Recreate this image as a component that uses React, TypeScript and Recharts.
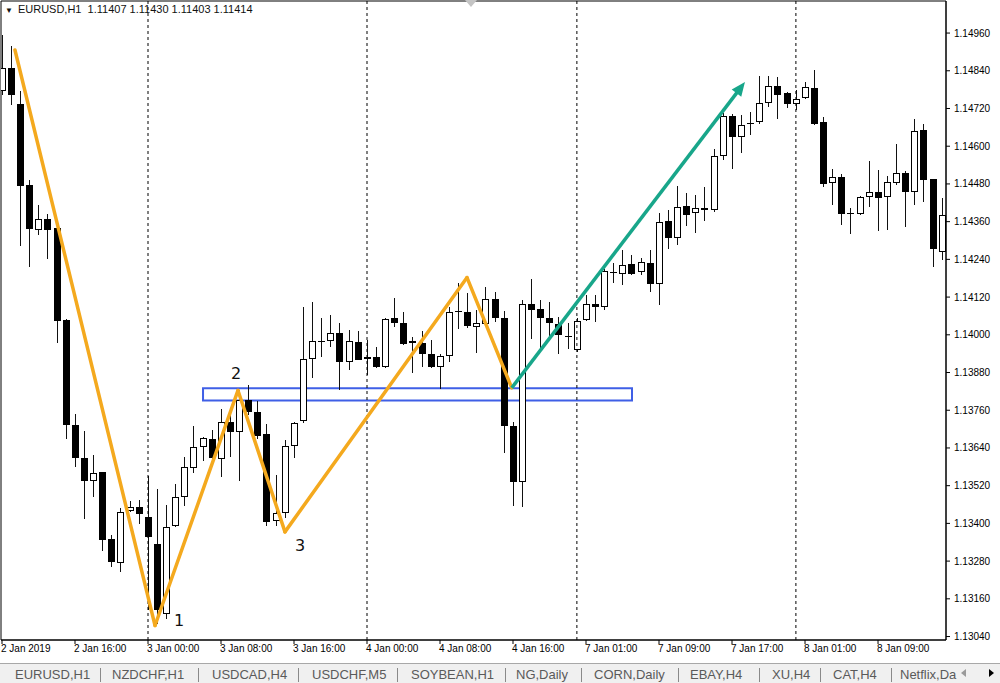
import React from 'react';
import {
  ComposedChart,
  Bar,
  XAxis,
  YAxis,
  ReferenceLine,
  ReferenceArea,
  ReferenceDot,
} from 'recharts';

// ---------- DATA (EURUSD H1) ----------
const opens = [
  1.14775, 1.1485, 1.14735, 1.14476, 1.14333, 1.14368, 1.14339, 1.14048, 1.13713, 1.13608,
  1.13536, 1.13563, 1.1335, 1.13274, 1.13438, 1.13453, 1.1342, 1.13334, 1.13113, 1.13392,
  1.13483, 1.13575, 1.13642, 1.13667, 1.13604, 1.13721, 1.1369, 1.13792, 1.13753, 1.13683,
  1.13409, 1.13432, 1.13645, 1.13725, 1.13922, 1.13979, 1.13979, 1.14005, 1.13913, 1.13977,
  1.13922, 1.13928, 1.13898, 1.14052, 1.14038, 1.13973, 1.13974, 1.13938, 1.13898, 1.13932,
  1.14075, 1.14073, 1.14024, 1.14033, 1.14113, 1.14054, 1.1371, 1.13531, 1.14099, 1.14083,
  1.14052, 1.14033, 1.13995, 1.13951, 1.14046, 1.14097, 1.14087, 1.142, 1.14195, 1.14225,
  1.142, 1.1423, 1.14161, 1.14362, 1.14308, 1.1441, 1.14386, 1.14404, 1.14396, 1.14569,
  1.14697, 1.14628, 1.14674, 1.14676, 1.14736, 1.14792, 1.14768, 1.14733, 1.14752, 1.14784,
  1.14676, 1.14483, 1.14501, 1.14386, 1.14384, 1.14437, 1.14453, 1.14437, 1.14483, 1.14515,
  1.14453, 1.14653, 1.14495, 1.14264,
];
const highs = [
  1.14954, 1.14919, 1.14777, 1.14492, 1.14413, 1.14385, 1.14342, 1.1405, 1.13748, 1.13693,
  1.13618, 1.13565, 1.13362, 1.13448, 1.13471, 1.13474, 1.1355, 1.13508, 1.13457, 1.13524,
  1.1361, 1.13709, 1.13675, 1.13696, 1.13763, 1.13763, 1.13823, 1.13839, 1.13788, 1.13715,
  1.13553, 1.13664, 1.13724, 1.14088, 1.14104, 1.14053, 1.14062, 1.14037, 1.14014, 1.14011,
  1.13983, 1.1396, 1.14052, 1.14117, 1.14073, 1.13992, 1.14012, 1.13983, 1.13938, 1.14089,
  1.14164, 1.14132, 1.14078, 1.14152, 1.14136, 1.14075, 1.13722, 1.1411, 1.14176, 1.14112,
  1.14104, 1.14057, 1.14038, 1.14052, 1.14126, 1.14126, 1.14209, 1.14228, 1.14269, 1.14253,
  1.14244, 1.14269, 1.14386, 1.14396, 1.14473, 1.14452, 1.14446, 1.14471, 1.1459, 1.14706,
  1.14704, 1.14699, 1.14708, 1.14823, 1.14823, 1.1482, 1.14772, 1.14779, 1.14805, 1.14842,
  1.14692, 1.14529, 1.14513, 1.14402, 1.14441, 1.14553, 1.14524, 1.14505, 1.14607, 1.14521,
  1.14688, 1.14672, 1.14496, 1.14436,
];
const lows = [
  1.14763, 1.14732, 1.14282, 1.14217, 1.14316, 1.14242, 1.13974, 1.13669, 1.13579, 1.13414,
  1.13484, 1.13311, 1.13261, 1.13246, 1.13435, 1.13398, 1.13123, 1.13081, 1.13097, 1.1339,
  1.13454, 1.13559, 1.13598, 1.13591, 1.13546, 1.1361, 1.13534, 1.13744, 1.1367, 1.13393,
  1.13393, 1.13416, 1.13607, 1.13718, 1.13862, 1.13928, 1.1396, 1.13823, 1.13887, 1.13919,
  1.13871, 1.13894, 1.13894, 1.14025, 1.13967, 1.13877, 1.13898, 1.13894, 1.13829, 1.13913,
  1.14018, 1.14021, 1.13942, 1.14027, 1.14041, 1.13623, 1.13454, 1.13452, 1.13988, 1.13956,
  1.13993, 1.13938, 1.13956, 1.13944, 1.14043, 1.14041, 1.14078, 1.14164, 1.14158, 1.1419,
  1.1419, 1.14136, 1.14094, 1.14274, 1.14285, 1.14346, 1.14325, 1.14361, 1.1439, 1.14556,
  1.14529, 1.14579, 1.14635, 1.1467, 1.14725, 1.14688, 1.1472, 1.14715, 1.1475, 1.14667,
  1.14471, 1.14412, 1.14349, 1.1432, 1.14382, 1.14407, 1.14331, 1.14333, 1.14476, 1.14343,
  1.14412, 1.14423, 1.14216, 1.14237,
];
const closes = [
  1.14849, 1.14763, 1.14474, 1.14336, 1.14369, 1.14334, 1.14044, 1.13713, 1.13608, 1.13535,
  1.1356, 1.13346, 1.13276, 1.13435, 1.13453, 1.13429, 1.13358, 1.13123, 1.1339, 1.13483,
  1.13578, 1.13642, 1.13671, 1.13607, 1.13721, 1.1369, 1.13792, 1.13753, 1.13677, 1.13406,
  1.13432, 1.13645, 1.13718, 1.13922, 1.13979, 1.1398, 1.14005, 1.13913, 1.1398, 1.13921,
  1.13928, 1.13897, 1.1405, 1.14037, 1.1397, 1.1398, 1.13938, 1.13897, 1.13932, 1.14073,
  1.14074, 1.14027, 1.14037, 1.14113, 1.14054, 1.1371, 1.13531, 1.14099, 1.14078, 1.14052,
  1.14036, 1.13998, 1.13996, 1.14044, 1.14099, 1.14087, 1.14203, 1.14201, 1.14221, 1.14195,
  1.14231, 1.14161, 1.14359, 1.14308, 1.14407, 1.14381, 1.14402, 1.14396, 1.14569, 1.14697,
  1.14628, 1.14667, 1.14675, 1.14736, 1.14791, 1.14763, 1.14733, 1.14749, 1.14789, 1.1467,
  1.14479, 1.14501, 1.14384, 1.14387, 1.14437, 1.14453, 1.14436, 1.14487, 1.14515, 1.14453,
  1.14649, 1.14494, 1.14272, 1.14381,
];

const xTickIdx = [0, 8, 16, 24, 32, 40, 48, 56, 64, 72, 80, 88, 96];
const xTickLabels = [
  '2 Jan 2019', '2 Jan 16:00', '3 Jan 00:00', '3 Jan 08:00', '3 Jan 16:00', '4 Jan 00:00',
  '4 Jan 08:00', '4 Jan 16:00', '7 Jan 01:00', '7 Jan 09:00', '7 Jan 17:00', '8 Jan 01:00',
  '8 Jan 09:00',
];
const daySeparators = [16, 40, 63, 87];
const yTicks = [
  1.1304, 1.1316, 1.1328, 1.134, 1.1352, 1.1364, 1.1376, 1.1388, 1.14, 1.1412, 1.1424,
  1.1436, 1.1448, 1.146, 1.1472, 1.1484, 1.1496,
];

// drawn objects (bar index, price)
const zigzagIdx = [1.42, 16.77, 25.86, 31.01, 50.96, 55.86];
const zigzagPrice = [1.14906, 1.13075, 1.13823, 1.13373, 1.14182, 1.13831];
const arrowIdx = [55.86, 81.42];
const arrowPrice = [1.13831, 1.14804];
const boxIdx = [22.03, 69.04];
const boxPrice = [1.13791, 1.1383];
const pointLabels = ['1', '2', '3'];
const pointLabelIdx = [19.4, 25.64, 32.66];
const pointLabelPrice = [1.13091, 1.13877, 1.1333];

const headerSymbol = 'EURUSD,H1';
const headerQuote = ['1.11407', '1.11430', '1.11403', '1.11414'];

const tabNames = [
  'EURUSD,H1', 'NZDCHF,H1', 'USDCAD,H4', 'USDCHF,M5', 'SOYBEAN,H1', 'NG,Daily',
  'CORN,Daily', 'EBAY,H4', 'XU,H4', 'CAT,H4', 'Netflix,Da',
];

// ---------- LAYOUT ----------
const X_DOMAIN: [number, number] = [-0.11, 103.45];
const Y_DOMAIN: [number, number] = [1.13029, 1.15062];
const FONT = '"Liberation Sans", Arial, sans-serif';
const ORANGE = '#f4a91e';
const GREEN = '#18a68a';
const BLUE = '#3f5fe6';
const tabLeft = [15, 112, 212, 312, 411, 516, 594, 690, 772, 833, 900];
const sepLeft = [100, 198, 298, 397, 505, 581, 678, 759, 820, 891];

const candles = opens.map((o, i) => ({
  idx: i,
  open: o,
  high: highs[i],
  low: lows[i],
  close: closes[i],
  range: [lows[i], highs[i]],
}));

const Candle = (props: any) => {
  const { x, y, width, height } = props;
  const p = props.payload || props;
  if (y == null || height == null || isNaN(y) || isNaN(height)) return null;
  const { open, close, high, low } = p;
  const span = high - low || 1e-9;
  const toY = (v: number) => y + ((high - v) / span) * height;
  const cx = Math.round(x + width / 2);
  const yO = toY(open);
  const yC = toY(close);
  const top = Math.round(Math.min(yO, yC));
  const bot = Math.round(Math.max(yO, yC));
  const bull = close >= open;
  const body =
    bot - top < 2 ? (
      <line x1={cx - 3} x2={cx + 4} y1={top + 0.5} y2={top + 0.5} stroke="#000" strokeWidth={1} />
    ) : bull ? (
      <rect x={cx - 2.5} y={top + 0.5} width={6} height={bot - top - 1} fill="#fff" stroke="#000" strokeWidth={1} />
    ) : (
      <rect x={cx - 3} y={top} width={7} height={bot - top} fill="#000" />
    );
  return (
    <g>
      <line x1={cx + 0.5} x2={cx + 0.5} y1={Math.round(y)} y2={Math.round(y + height)} stroke="#111" strokeWidth={1} />
      {body}
    </g>
  );
};

const XTick = (props: any) => {
  const { x, y, payload } = props;
  const i = xTickIdx.indexOf(payload.value);
  return (
    <text x={x - 1} y={y + 7} fontSize={10} fontFamily={FONT} fill="#000" textAnchor="start">
      {i >= 0 ? xTickLabels[i] : ''}
    </text>
  );
};

const YTick = (props: any) => {
  const { x, y, payload } = props;
  return (
    <text x={x} y={y + 3.5} fontSize={10} fontFamily={FONT} fill="#000" textAnchor="start">
      {Number(payload.value).toFixed(5)}
    </text>
  );
};

const Arrow = (props: any) => {
  const { x1, y1, x2, y2 } = props;
  if ([x1, y1, x2, y2].some((v) => v == null || isNaN(v))) return null;
  const dx = x2 - x1;
  const dy = y2 - y1;
  const len = Math.sqrt(dx * dx + dy * dy);
  const ux = dx / len;
  const uy = dy / len;
  const headLen = 14;
  const headHalf = 6;
  const bx = x2 - ux * headLen;
  const by = y2 - uy * headLen;
  const pts = `${x2},${y2} ${bx - uy * headHalf},${by + ux * headHalf} ${bx + uy * headHalf},${by - ux * headHalf}`;
  return (
    <g>
      <line x1={x1} y1={y1} x2={bx + ux * 2} y2={by + uy * 2} stroke={GREEN} strokeWidth={3.5} />
      <polygon points={pts} fill={GREEN} />
    </g>
  );
};

const NumLabel = (text: string) => (props: any) => {
  const { cx, cy } = props;
  if (cx == null || cy == null) return null;
  return (
    <text
      x={cx}
      y={cy}
      fontSize={16}
      fontFamily='"DejaVu Sans", sans-serif'
      fill="#111"
      textAnchor="middle"
      dominantBaseline="central"
    >
      {text}
    </text>
  );
};

export default function App() {
  return (
    <div
      style={{
        position: 'absolute',
        left: 0,
        top: 0,
        width: 1000,
        height: 683,
        background: '#fff',
        overflow: 'hidden',
        fontFamily: FONT,
      }}
    >
      <ComposedChart
        width={1000}
        height={660}
        data={candles}
        margin={{ top: 1, right: 0, bottom: 0, left: 1 }}
      >
        <XAxis
          dataKey="idx"
          type="number"
          domain={X_DOMAIN}
          allowDataOverflow
          ticks={xTickIdx}
          interval={0}
          height={20}
          tickSize={4}
          tickMargin={1}
          tick={<XTick />}
          axisLine={{ stroke: '#000' }}
          tickLine={{ stroke: '#000' }}
        />
        <YAxis
          type="number"
          orientation="right"
          domain={Y_DOMAIN}
          allowDataOverflow
          ticks={yTicks}
          interval={0}
          width={54}
          tickSize={4}
          tickMargin={4}
          tick={<YTick />}
          axisLine={{ stroke: '#000' }}
          tickLine={{ stroke: '#000' }}
        />
        {daySeparators.map((d) => (
          <ReferenceLine key={'sep' + d} x={d} stroke="#000" strokeWidth={1} strokeDasharray="3 3" />
        ))}
        <ReferenceArea
          x1={X_DOMAIN[0]}
          x2={X_DOMAIN[1]}
          y1={Y_DOMAIN[0]}
          y2={Y_DOMAIN[1]}
          fill="none"
          fillOpacity={0}
          stroke="#000"
          strokeWidth={1}
        />
        <Bar dataKey="range" shape={<Candle />} isAnimationActive={false} />
        <ReferenceArea
          x1={boxIdx[0]}
          x2={boxIdx[1]}
          y1={boxPrice[0]}
          y2={boxPrice[1]}
          fill="none"
          fillOpacity={0}
          stroke={BLUE}
          strokeWidth={2}
        />
        {zigzagIdx.slice(0, -1).map((xi, k) => (
          <ReferenceLine
            key={'zz' + k}
            segment={[
              { x: xi, y: zigzagPrice[k] },
              { x: zigzagIdx[k + 1], y: zigzagPrice[k + 1] },
            ]}
            stroke={ORANGE}
            strokeWidth={3.5}
            strokeLinecap="round"
          />
        ))}
        <ReferenceLine
          segment={[
            { x: arrowIdx[0], y: arrowPrice[0] },
            { x: arrowIdx[1], y: arrowPrice[1] },
          ]}
          shape={<Arrow />}
        />
        {pointLabels.map((t, k) => (
          <ReferenceDot
            key={'lbl' + t}
            x={pointLabelIdx[k]}
            y={pointLabelPrice[k]}
            r={0}
            shape={NumLabel(t)}
          />
        ))}
      </ComposedChart>

      {/* header */}
      <div style={{ position: 'absolute', left: 5, top: 3, fontSize: 11, color: '#111', whiteSpace: 'pre', lineHeight: '13px' }}>
        <span style={{ fontSize: 8, marginRight: 5, verticalAlign: 'middle' }}>▼</span>
        {headerSymbol + '  ' + headerQuote.join(' ')}
      </div>
      <svg style={{ position: 'absolute', left: 0, top: 0 }} width={1000} height={10}>
        <polygon points="465,0 477,0 471,7" fill="#c4c4c4" />
      </svg>

      {/* tab bar */}
      <div
        style={{
          position: 'absolute',
          left: 0,
          top: 663,
          width: 1000,
          height: 20,
          background: '#f0f0f0',
          borderTop: '1px solid #a8a8a8',
        }}
      >
        {tabNames.map((t, k) => (
          <span
            key={t}
            style={{
              position: 'absolute',
              left: tabLeft[k],
              top: 3,
              fontSize: 13,
              lineHeight: '16px',
              color: '#5a5a5a',
              whiteSpace: 'nowrap',
            }}
          >
            {t}
          </span>
        ))}
        {sepLeft.map((s) => (
          <div key={'s' + s} style={{ position: 'absolute', left: s, top: 4, width: 1, height: 14, background: '#8a8a8a' }} />
        ))}
        <svg style={{ position: 'absolute', left: 955, top: 0 }} width={45} height={20}>
          <polygon points="11,5 11,13 6,9" fill="#9a9a9a" />
          <polygon points="34,5 34,13 39,9" fill="#000" />
        </svg>
      </div>
    </div>
  );
}
